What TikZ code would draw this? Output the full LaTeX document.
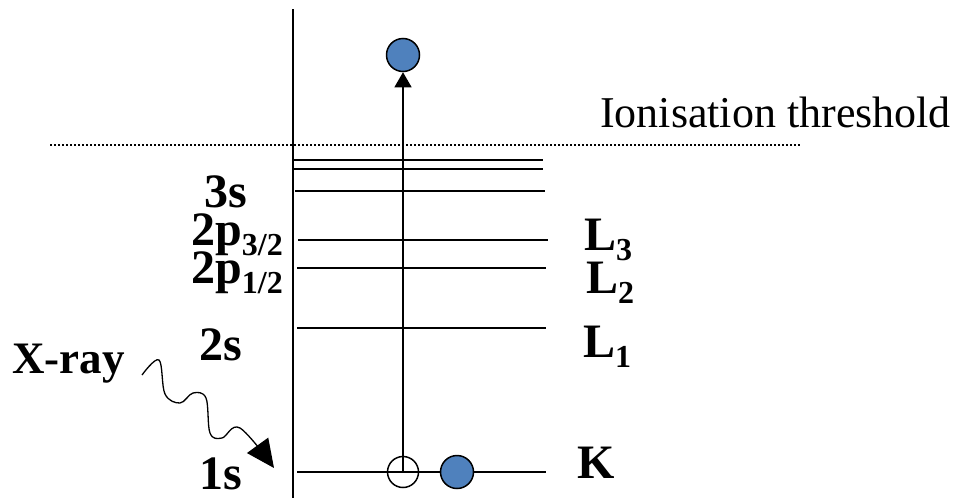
\documentclass[tikz,border=0pt]{standalone}
\usepackage{fontspec}
\setmainfont{Liberation Serif}
\usetikzlibrary{arrows.meta,positioning}
\definecolor{electron}{RGB}{79,129,189}
\newcommand{\lvsub}[1]{\raisebox{-10pt}{\fontsize{32}{32}\selectfont #1}}

\begin{document}
\begin{tikzpicture}[x=1pt,y=-1pt,
    level/.style={line width=1.6pt},
    lbl/.style={font=\fontsize{48}{48}\selectfont\bfseries,inner sep=0pt,anchor=base west},
    ball/.style={circle,draw,line width=1.5pt,minimum size=33pt,inner sep=0pt},
  ]
    \useasboundingbox (0,0) rectangle (957,498);
    % energy axis and ionisation threshold
    \draw[line width=1.6pt] (293,9) -- (293,498);
    \draw[line width=2.2pt,dash pattern=on 2pt off 2pt] (50,145) -- (800,145);
    \node[font=\fontsize{44}{44}\selectfont,inner sep=0pt,anchor=base west] (thr) at (600,127) {Ionisation threshold};
    % levels
    \foreach \y/\a/\b in {160/293/543,169/292/543,191/295/545,240/298/548,268/297/546,328/297/546,472/297/546}
      \draw[level] (\a,\y) -- (\b,\y);
    % shell labels
    \node[lbl] (s3)  at (204,207) {3s};
    \node[lbl] (p32) at (191,245) {2p\lvsub{3/2}};
    \node[lbl] (p12) at (191,283) {2p\lvsub{1/2}};
    \node[lbl] (s2)  at (199,360) {2s};
    \node[lbl] (s1)  at (199,489) {1s};
    \node[lbl] (l3)  at (584,250) {L\lvsub{3}};
    \node[lbl] (l2)  at (586,293) {L\lvsub{2}};
    \node[lbl] (l1)  at (583,357) {L\lvsub{1}};
    \node[lbl] (k)   at (577,478) {K};
    \node[lbl,font=\fontsize{45}{45}\selectfont\bfseries] (xray) at (12,373) {X-ray};
    % electrons
    \node[ball,fill=electron] (out)  at (403,55)  {};
    \node[ball,minimum size=31pt] (hole) at (403,472) {};
    \node[ball,fill=electron] (ek)   at (457,472) {};
    \draw[line width=1.2pt,-{Triangle[length=15pt,width=17pt]}] (hole.center) -- (out);
    % incoming photon
    \coordinate (xin) at (142,375);
    \coordinate (xtip) at (274,468);
    \draw[line width=1.3pt,-{Triangle[length=28pt,width=26pt]}]
      plot[smooth,tension=0.6] coordinates {(xin) (159,360) (165,394) (180,403) (193,393) (206,398) (210,433) (222,438) (240,428) (xtip)};
  \end{tikzpicture}
\end{document}
